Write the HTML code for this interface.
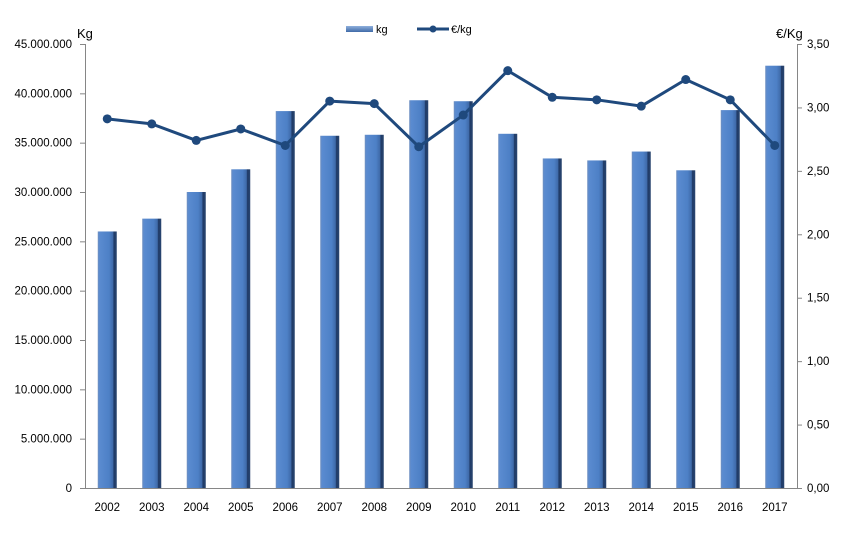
<!DOCTYPE html>
<html><head><meta charset="utf-8"><style>
html,body{margin:0;padding:0;background:#fff;}
svg{display:block;font-family:"Liberation Sans",sans-serif;}
</style></head><body>
<svg width="844" height="533" viewBox="0 0 844 533" xmlns="http://www.w3.org/2000/svg">
<defs>
<linearGradient id="bg" x1="0" x2="1" y1="0" y2="0">
<stop offset="0" stop-color="#6f8fbf"/>
<stop offset="0.1" stop-color="#5a8bd0"/>
<stop offset="0.6" stop-color="#4d80c6"/>
<stop offset="0.8" stop-color="#3f6aa8"/>
<stop offset="0.85" stop-color="#1f3a66"/>
<stop offset="1" stop-color="#2a4670"/>
</linearGradient>
<linearGradient id="lg" x1="0" x2="0" y1="0" y2="1">
<stop offset="0" stop-color="#8fb0dc"/>
<stop offset="1" stop-color="#3f6aa8"/>
</linearGradient>
</defs>
<g stroke="#868686" stroke-width="1">
<line x1="85.5" y1="44" x2="85.5" y2="488"/>
<line x1="797.5" y1="44" x2="797.5" y2="488"/>
<line x1="80" y1="488.5" x2="802" y2="488.5"/>
</g>
<g id="ticks" stroke="#868686"></g>
<g id="bars"></g>
<g id="labels" font-size="11.5" fill="#000"></g>
<text x="77" y="38" font-size="13">Kg</text>
<text x="776" y="38" font-size="13">€/Kg</text>
<rect x="346" y="26" width="27" height="6" fill="url(#lg)"/>
<text x="376" y="33" font-size="11">kg</text>
<line x1="417" y1="29" x2="449" y2="29" stroke="#1f497d" stroke-width="3"/>
<circle cx="433" cy="29" r="3.5" fill="#1f497d"/>
<text x="451" y="33" font-size="11">€/kg</text>
<g id="line"></g>
</svg>
<script>
var ns="http://www.w3.org/2000/svg";
function el(t,a,p,txt){var e=document.createElementNS(ns,t);for(var k in a)e.setAttribute(k,a[k]);if(txt!=null)e.textContent=txt;document.getElementById(p).appendChild(e);return e;}
var kg=[26.0,27.3,30.0,32.3,38.2,35.7,35.8,39.3,39.2,35.9,33.4,33.2,34.1,32.2,38.3,42.8];
var pr=[2.91,2.87,2.74,2.83,2.70,3.05,3.03,2.69,2.94,3.29,3.08,3.06,3.01,3.22,3.06,2.70];
var L=85,R=797,T=44,B=488,H=B-T,w=(R-L)/16;
var lt=["0","5.000.000","10.000.000","15.000.000","20.000.000","25.000.000","30.000.000","35.000.000","40.000.000","45.000.000"];
for(var i=0;i<=9;i++){var y=B-i*H/9;
el("line",{x1:80,x2:85,y1:y+.5,y2:y+.5},"ticks");
el("text",{x:72,y:y+4,"text-anchor":"end"},"labels",lt[i]);}
for(var i=0;i<=7;i++){var y=B-i*H/7;
el("line",{x1:797,x2:802,y1:y+.5,y2:y+.5},"ticks");
el("text",{x:807,y:y+4},"labels",(i*0.5).toFixed(2).replace(".",","));}
var pts=[];
for(var i=0;i<16;i++){var c=L+(i+.5)*w;var h=kg[i]/45*H;
el("rect",{x:c-9.5,y:B-h,width:19,height:h,fill:"url(#bg)"},"bars");
el("text",{x:c,y:511,"text-anchor":"middle"},"labels",2002+i);
pts.push([c,B-pr[i]/3.5*H]);}
el("polyline",{points:pts.map(p=>p.join(",")).join(" "),fill:"none",stroke:"#1f497d","stroke-width":3,"stroke-linejoin":"round"},"line");
pts.forEach(p=>el("circle",{cx:p[0],cy:p[1],r:4.5,fill:"#1f497d"},"line"));
</script>
</body></html>
